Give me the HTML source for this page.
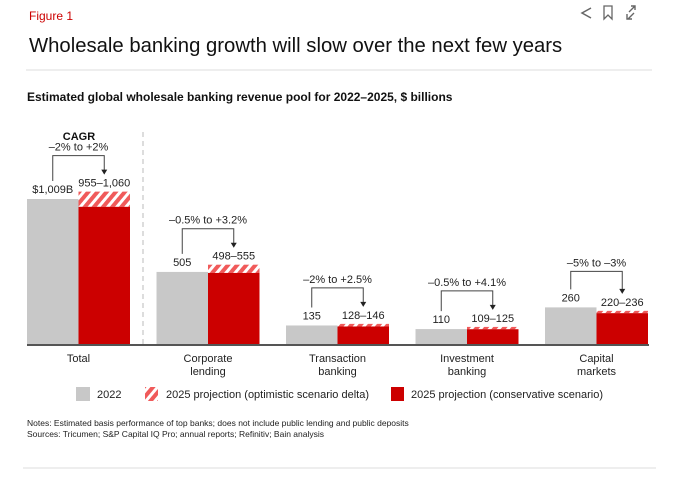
<!DOCTYPE html>
<html><head><meta charset="utf-8"><style>
body{margin:0;background:#fff;width:680px;height:474px;overflow:hidden;font-family:"Liberation Sans",sans-serif}
svg text{font-family:"Liberation Sans",sans-serif}
</style></head><body>
<svg id="chart" width="680" height="474" xmlns="http://www.w3.org/2000/svg">
<defs>
<pattern id="hatch" patternUnits="userSpaceOnUse" width="7" height="7" patternTransform="rotate(40)">
<rect width="7" height="7" fill="#fff"/><rect width="4" height="7" fill="#f05a5a"/>
</pattern>
</defs>
<text x="29" y="20" font-size="12" fill="#cc0000">Figure 1</text>
<g stroke="#666" stroke-width="1.5" fill="none"><path d="M591 8 L582 13 L591 18"/></g>
<path d="M604 6 h8 v13 l-4 -4 l-4 4 z" stroke="#666" stroke-width="1.3" fill="none"/>
<g stroke="#666" stroke-width="1.4" fill="none"><path d="M629 12 l6 -6 M631 6 h4 v4 M628 19 l6 -6 M627 14 v5 h5"/></g>
<text x="29" y="52" font-size="20.3" fill="#111">Wholesale banking growth will slow over the next few years</text>
<line x1="26" y1="70" x2="652" y2="70" stroke="#ddd"/>
<text x="27" y="101" font-size="12" font-weight="bold" fill="#111">Estimated global wholesale banking revenue pool for 2022–2025, $ billions</text>
<line x1="143" y1="132" x2="143" y2="345" stroke="#bbb" stroke-dasharray="5,4"/>
<text x="79" y="140" font-size="11" font-weight="bold" text-anchor="middle" fill="#111">CAGR</text>
<g id="bars"></g>
<line x1="27" y1="345" x2="649" y2="345" stroke="#555" stroke-width="2"/>
<g>
<rect x="76" y="387" width="14" height="14" fill="#c8c8c8"/>
<text x="97" y="398" font-size="11" fill="#222">2022</text>
<rect x="145" y="387" width="13" height="14" fill="url(#hatch)"/>
<text x="166" y="398" font-size="11" fill="#222">2025 projection (optimistic scenario delta)</text>
<rect x="391" y="387" width="13" height="14" fill="#cc0000"/>
<text x="411" y="398" font-size="11" fill="#222">2025 projection (conservative scenario)</text>
</g>
<text x="27" y="426" font-size="8.5" fill="#222">Notes: Estimated basis performance of top banks; does not include public lending and public deposits</text>
<text x="27" y="437" font-size="8.5" fill="#222">Sources: Tricumen; S&amp;P Capital IQ Pro; annual reports; Refinitiv; Bain analysis</text>
<line x1="23" y1="468" x2="656" y2="468" stroke="#ddd"/>
</svg>
<script>
const categories=[["Total"],["Corporate","lending"],["Transaction","banking"],["Investment","banking"],["Capital","markets"]];
const values2022=[1009,505,135,110,260];
const conservative2025=[955,498,128,109,220];
const optimistic2025=[1060,555,146,125,236];
const labels2022=["$1,009B","505","135","110","260"];
const labels2025=["955–1,060","498–555","128–146","109–125","220–236"];
const cagrLabels=["–2% to +2%","–0.5% to +3.2%","–2% to +2.5%","–0.5% to +4.1%","–5% to –3%"];
const NS="http://www.w3.org/2000/svg";
const baseY=345,scale=0.1447,x0=27,step=129.5,bw=51.5;
const y=v=>baseY-v*scale;
const g=document.getElementById('bars');
function mk(tag,attrs){const e=document.createElementNS(NS,tag);for(const k in attrs)e.setAttribute(k,attrs[k]);g.appendChild(e);return e;}
categories.forEach((c,i)=>{
  const gx=x0+i*step, rx=gx+bw;
  let e=mk('rect',{x:gx,y:y(values2022[i]),width:bw,height:values2022[i]*scale,fill:'#c8c8c8'});
  
  
  e=mk('rect',{x:rx,y:y(optimistic2025[i]),width:bw,height:(optimistic2025[i]-conservative2025[i])*scale,fill:'url(#hatch)'});
  
  
  e=mk('rect',{x:rx,y:y(conservative2025[i]),width:bw,height:conservative2025[i]*scale,fill:'#cc0000'});
  
  
  const gc=gx+bw/2, rc=rx+bw/2;
  const gl=y(values2022[i])-6, rl=y(optimistic2025[i])-5;
  e=mk('text',{x:gc,y:gl,'font-size':11,'text-anchor':'middle',fill:'#222'});e.textContent=labels2022[i];
  
  
  e=mk('text',{x:rc,y:rl,'font-size':11,'text-anchor':'middle',fill:'#222'});e.textContent=labels2025[i];
  
  
  const by=Math.min(y(values2022[i]),y(optimistic2025[i]))-36;
  e=mk('path',{d:`M${gc} ${gl-12} V${by} H${rc} V${rl-14}`,stroke:'#444','stroke-width':1,fill:'none'});
  
  
  e=mk('path',{d:`M${rc-3} ${rl-17} L${rc+3} ${rl-17} L${rc} ${rl-12} Z`,fill:'#222'});
  
  
  e=mk('text',{x:(gc+rc)/2,y:by-5,'font-size':11,'text-anchor':'middle',fill:'#222'});e.textContent=cagrLabels[i];
  
  
  c.forEach((line,j)=>{
    e=mk('text',{x:gx+bw,y:362+j*13,'font-size':11,'text-anchor':'middle',fill:'#222'});e.textContent=line;
    
    
  });
});
</script>
</body></html>
